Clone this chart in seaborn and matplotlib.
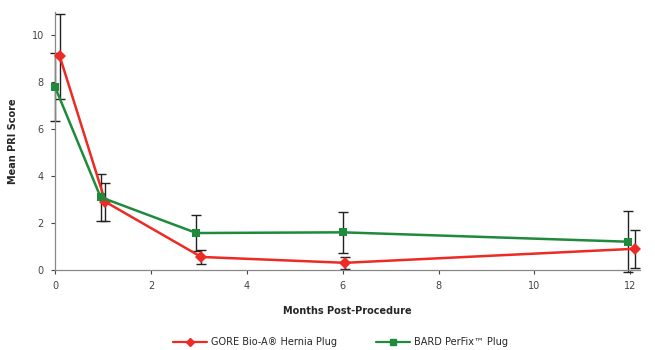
import numpy as np
import pandas as pd
import matplotlib
matplotlib.use("Agg")
import matplotlib.pyplot as plt
import seaborn as sns

# data
months = [0, 1, 3, 6, 12]
gore_x = [0.1, 1.05, 3.05, 6.05, 12.1]
gore_mean = [9.1, 2.9, 0.55, 0.3, 0.9]
gore_err = [1.8, 0.8, 0.28, 0.25, 0.8]
bard_x = [0, 0.95, 2.95, 6.0, 11.95]
bard_mean = [7.8, 3.1, 1.57, 1.6, 1.2]
bard_err = [1.45, 1.0, 0.75, 0.87, 1.3]

labels = ["GORE Bio-A\u00ae Hernia Plug", "BARD PerFix\u2122 Plug"]
colors = {labels[0]: "#ee2a24", labels[1]: "#1f8a3c"}

df = pd.concat([
    pd.DataFrame({"month": gore_x, "score": gore_mean, "err": gore_err, "device": labels[0]}),
    pd.DataFrame({"month": bard_x, "score": bard_mean, "err": bard_err, "device": labels[1]}),
])

sns.set_style("white")
plt.rcParams["font.family"] = ["DejaVu Sans"]

fig = plt.figure(figsize=(6.55, 3.5), dpi=100)
ax = fig.add_axes([0.084, 0.229, 0.893, 0.737])

# error bars first so the lines sit on top
for dev, sub in df.groupby("device"):
    ax.errorbar(sub["month"], sub["score"], yerr=sub["err"], fmt="none",
                ecolor="#222222", elinewidth=1, capsize=3.5, capthick=1,
                clip_on=False, zorder=2)

sns.lineplot(data=df, x="month", y="score", hue="device", style="device",
             hue_order=labels, style_order=labels, palette=colors,
             markers={labels[0]: "D", labels[1]: "s"}, dashes=False,
             markersize=6, markeredgewidth=0, linewidth=1.8,
             sort=False, ax=ax, clip_on=False, zorder=3, legend=False)

ax.set_xlim(0, 12.2)
ax.set_ylim(0, 11)
ax.set_xticks([0, 2, 4, 6, 8, 10, 12])
ax.set_yticks([0, 2, 4, 6, 8, 10])
ax.tick_params(labelsize=7, colors="#444444", length=3, width=0.8, direction="out",
               bottom=True, left=True, pad=5)
for s in ["top", "right"]:
    ax.spines[s].set_visible(False)
for s in ["left", "bottom"]:
    ax.spines[s].set_color("#888888")
    ax.spines[s].set_linewidth(0.9)

ax.set_xlabel("Months Post-Procedure", fontsize=7, fontweight="bold", labelpad=11)
ax.set_ylabel("Mean PRI Score", fontsize=7, fontweight="bold", labelpad=10)

handles = [
    plt.Line2D([], [], color=colors[labels[0]], marker="D", markersize=4, linewidth=1.6),
    plt.Line2D([], [], color=colors[labels[1]], marker="s", markersize=4, linewidth=1.6),
]
fig.legend(handles, labels, loc="center", bbox_to_anchor=(0.52, 0.022), ncol=2,
           frameon=False, fontsize=7, handlelength=3.5, handletextpad=0.4,
           columnspacing=4)

fig.savefig("out.png", dpi=100)
